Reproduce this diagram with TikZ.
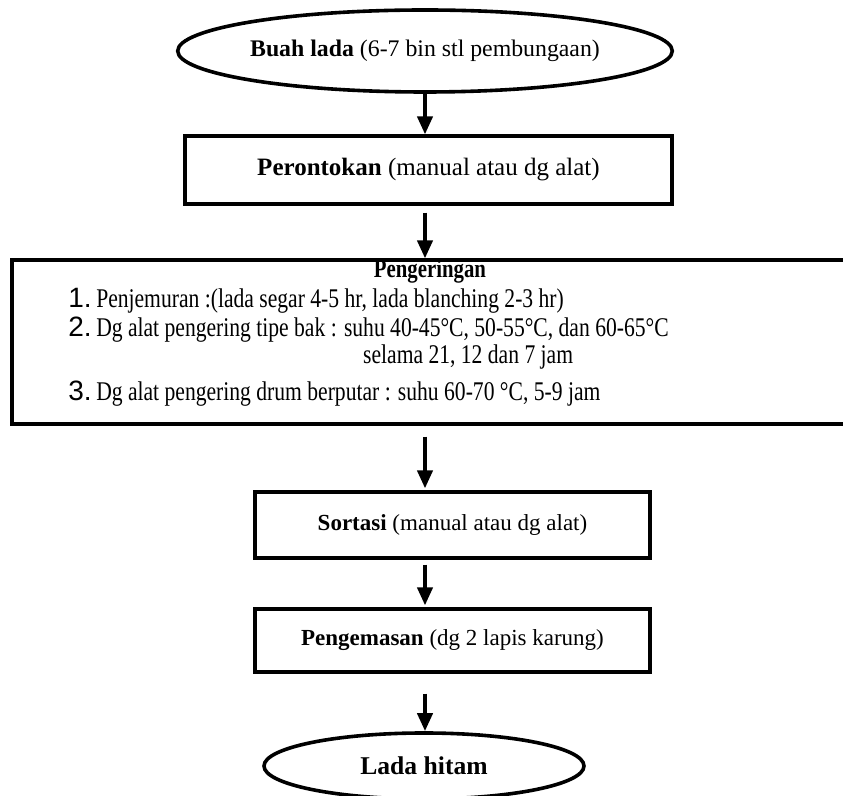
\documentclass[tikz,border=0pt]{standalone}
\usepackage{fontspec}
\setmainfont{Liberation Serif}
\newfontfamily\narrowserif[FakeStretch=0.80]{Liberation Serif}
\newfontfamily\numfont{Liberation Sans}
\usetikzlibrary{shapes.geometric,arrows.meta}
\begin{document}
\begin{tikzpicture}[x=0.5pt,y=-0.5pt,
  oval/.style={ellipse,draw,line width=1.8pt,inner sep=0pt},
  procbox/.style={rectangle,draw,line width=1.6pt,inner sep=0pt},
  arr/.style={line width=2pt,-{Triangle[length=9pt,width=7.5pt]}},
  itemtext/.style={anchor=base west,inner sep=0pt,font=\narrowserif\fontsize{13.5}{14}\selectfont}]
\useasboundingbox (0,0) rectangle (843,796);
\newcommand{\nm}[1]{{\numfont\fontsize{14}{14}\selectfont #1}}

\node[oval, minimum width=245pt, minimum height=41pt, font=\fontsize{11.9}{14}\selectfont] (e1) at (425,51)
  {\textbf{Buah lada} (6-7 bin stl pembungaan)};
\node[procbox, minimum width=243.5pt, minimum height=34pt, font=\fontsize{12.5}{14}\selectfont] (b2) at (428.5,170)
  {\textbf{Perontokan} (manual atau dg alat)};
\node[procbox, minimum width=424pt, minimum height=82pt] (b3) at (436,342) {};
\node[procbox, minimum width=197.5pt, minimum height=33pt, font=\fontsize{11.5}{14}\selectfont] (b4) at (452.5,525)
  {\textbf{Sortasi} (manual atau dg alat)};
\node[procbox, minimum width=197.5pt, minimum height=31.5pt, font=\fontsize{11.5}{14}\selectfont] (b5) at (452.5,640.5)
  {\textbf{Pengemasan} (dg 2 lapis karung)};
\node[oval, minimum width=160pt, minimum height=33pt, font=\fontsize{12.8}{15}\selectfont] (e2) at (424,766)
  {\textbf{Lada hitam}};

\node[anchor=base,inner sep=0pt,font=\narrowserif\bfseries\fontsize{13}{14}\selectfont] (t0) at (430,278) {Pengeringan};
\node[itemtext] (t1) at (68,308) {\nm{1.}\,Penjemuran :(lada segar 4-5 hr, lada blanching 2-3 hr)};
\node[itemtext] (t2) at (68,337) {\nm{2.}\,Dg alat pengering tipe bak : suhu 40-45°C, 50-55°C, dan 60-65°C};
\node[itemtext] (t2b) at (68,364) {\hphantom{\nm{2.}\,Dg alat pengering tipe bak : su}selama 21, 12 dan 7 jam};
\node[itemtext] (t3) at (68,401) {\nm{3.}\,Dg alat pengering drum berputar : suhu 60-70 °C, 5-9 jam};

\draw[arr] (e1) -- (e1 |- b2.north);
\draw[arr, shorten <=3.5pt] (b2.south -| e1) -- (b3.north -| e1);
\draw[arr, shorten <=5.5pt, shorten >=1pt] (b3.south -| e1) -- (b4.north -| e1);
\draw[arr, shorten <=2.5pt, shorten >=1pt] (b4.south -| e1) -- (b5.north -| e1);
\draw[arr, shorten <=10pt] (b5.south -| e1) -- (e2.north -| e1);
\end{tikzpicture}
\end{document}
